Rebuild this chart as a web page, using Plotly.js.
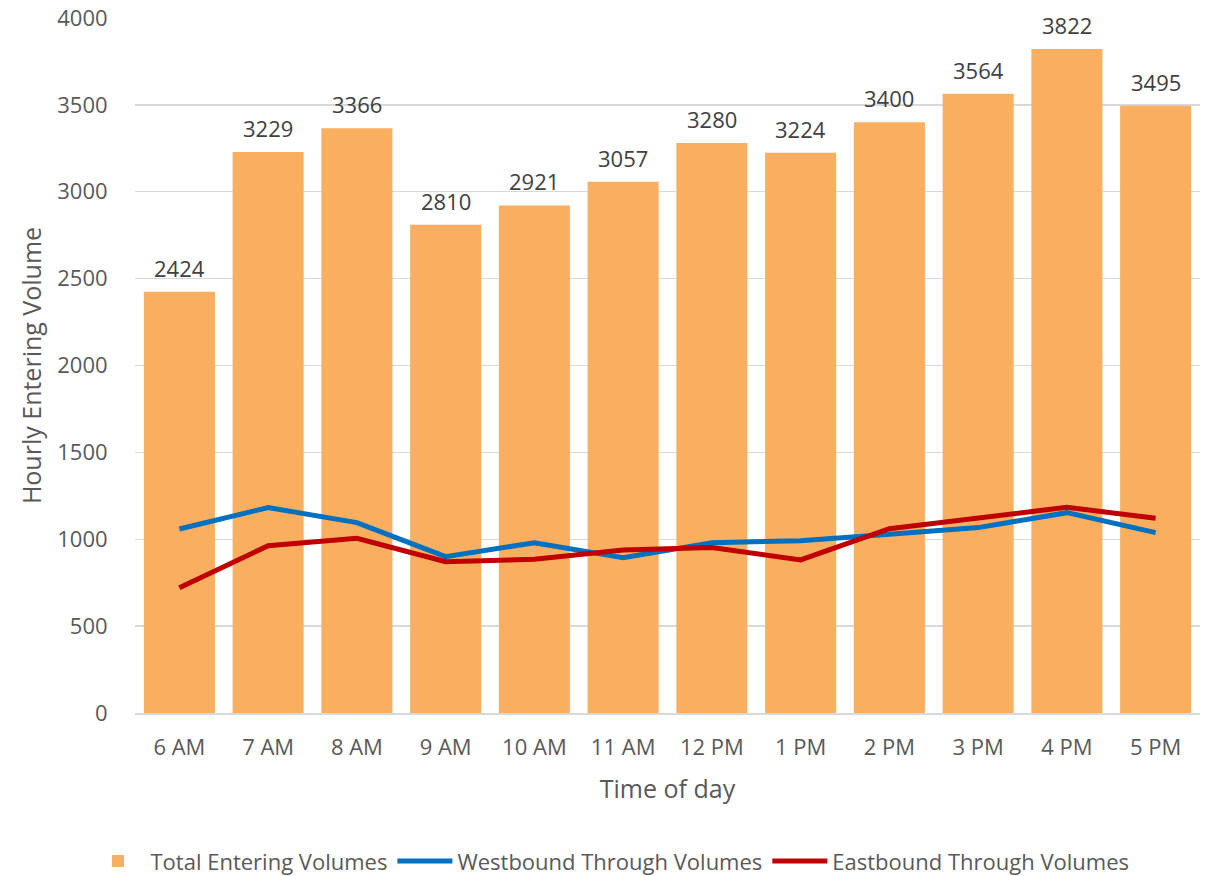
<!DOCTYPE html>
<html>
<head>
<meta charset="utf-8">
<script src="https://cdn.plot.ly/plotly-3.0.1.min.js"></script>
<style>html,body{margin:0;padding:0;background:#fff;}#chart{width:1209px;height:876px;}</style>
</head>
<body>
<div id="chart"></div>
<script>
const hours = ["6 AM","7 AM","8 AM","9 AM","10 AM","11 AM","12 PM","1 PM","2 PM","3 PM","4 PM","5 PM"];
const totalEntering = [2424,3229,3366,2810,2921,3057,3280,3224,3400,3564,3822,3495];
const westbound = [1059,1182,1096,900,980,894,980,992,1029,1067,1153,1038];
const eastbound = [721,963,1006,871,885,938,952,881,1061,1121,1184,1121];

const fontFam = '"Open Sans", "Noto Sans", sans-serif';
const textCol = '#595959';

const traces = [
  {type:'bar', name:'Total Entering Volumes', x:hours, y:totalEntering,
   marker:{color:'#F9AE60'}, hoverinfo:'x+y'},
  {type:'scatter', mode:'lines', name:'Westbound Through Volumes', x:hours, y:westbound,
   line:{color:'#0070C0', width:5}},
  {type:'scatter', mode:'lines', name:'Eastbound Through Volumes', x:hours, y:eastbound,
   line:{color:'#C00000', width:5}}
];

const annotations = hours.map((h,i)=>({
  x:h, y:totalEntering[i], text:String(totalEntering[i]), showarrow:false,
  yanchor:'bottom', yshift:7, font:{family:fontFam, size:22, color:'#404040'}
}));

const layout = {
  width:1209, height:876,
  margin:{l:135, r:9, t:18, b:163, autoexpand:false},
  paper_bgcolor:'#fff', plot_bgcolor:'#fff',
  font:{family:fontFam, size:22, color:textCol},
  bargap:0.2,
  showlegend:true,
  legend:{orientation:'h', x:0.446, xanchor:'center', y:-0.183, yanchor:'top',
          font:{size:22, color:textCol}, traceorder:'normal', itemwidth:55},
  xaxis:{type:'category', showgrid:false, showline:true, linecolor:'#d9d9d9', linewidth:1.5,
         ticks:'outside', ticklen:14, tickcolor:'rgba(0,0,0,0)', tickangle:0,
         tickfont:{size:22, color:textCol},
         title:{text:'Time of day', font:{size:25, color:textCol}, standoff:20}},
  yaxis:{range:[0,4000], dtick:500, showgrid:true, gridcolor:'#d9d9d9', gridwidth:1.3,
         zeroline:false, showline:false,
         ticks:'outside', ticklen:22, tickcolor:'rgba(0,0,0,0)',
         tickfont:{size:22, color:textCol},
         title:{text:'Hourly Entering Volume', font:{size:25, color:textCol}, standoff:8}},
  annotations:annotations
};

Plotly.newPlot('chart', traces, layout, {displayModeBar:false, staticPlot:true});
</script>
</body>
</html>
